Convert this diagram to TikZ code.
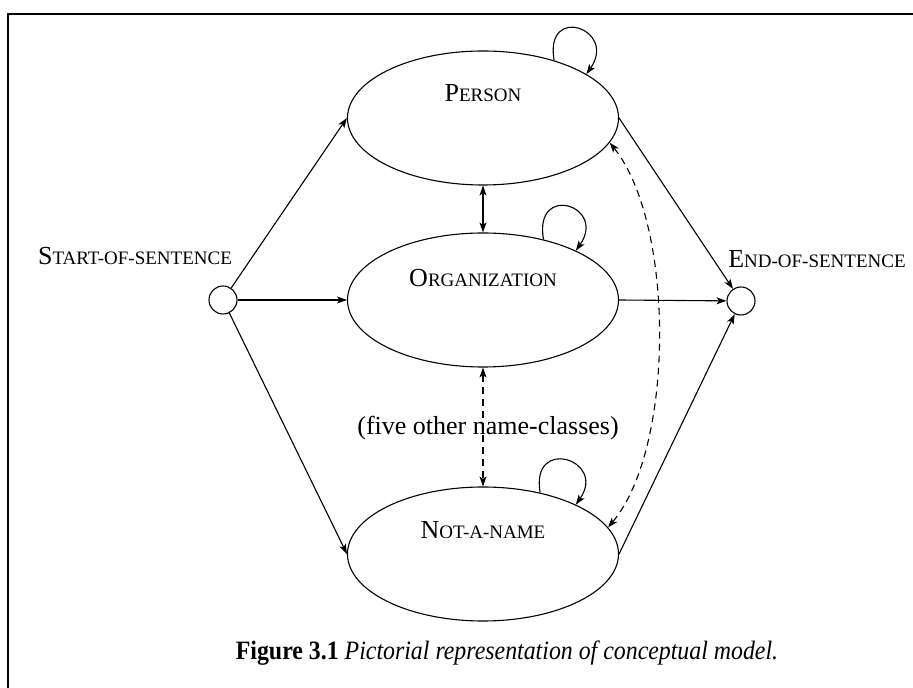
\documentclass[tikz,border=0pt]{standalone}
\usepackage{fontspec}
\setmainfont{Liberation Serif}
\usetikzlibrary{arrows.meta,shapes.geometric}
\newcommand{\capsm}[2]{{\fontsize{26}{30}\selectfont #1}{\fontsize{19}{22}\selectfont #2}}
\begin{document}
\begin{tikzpicture}[x=1pt,y=1pt,line width=1.1pt,
  >={Stealth[length=10pt,width=7pt,inset=2.5pt]},
  stateell/.style={draw,ellipse,minimum width=271pt,minimum height=134pt,inner sep=0pt},
  endpt/.style={draw,circle,minimum size=28pt,inner sep=0pt},
  lbl/.style={inner sep=0pt,anchor=base},
  conn/.style={->},
  dconn/.style={<->,dash pattern=on 7pt off 5pt},
  frameline/.style={line width=1.6pt}]
\useasboundingbox (0,0) rectangle (913,688);
\draw[frameline] (913,674) -- (8,674) -- (8,0);
% state ellipses
\node[stateell] (P) at (483,570) {};
\node[stateell] (O) at (483,388) {};
\node[stateell] (N) at (483,134) {};
\node[endpt] (S) at (223,388) {};
\node[endpt] (E) at (741,387) {};
% texts
\node[lbl] (Pt) at (483,586) {\capsm{P}{ERSON}};
\node[lbl] (Ot) at (483,401) {\capsm{O}{RGANIZATION}};
\node[lbl] (Nt) at (483,149) {\capsm{N}{OT-A-NAME}};
\node[lbl] (St) at (135,423) {\capsm{S}{TART-OF-SENTENCE}};
\node[lbl] (Et) at (817,420) {\capsm{E}{ND-OF-SENTENCE}};
\node[lbl] (Ft) at (488,253) {\fontsize{26}{30}\selectfont (five other name-classes)};
\node[lbl] (cap) at (507,28) {\scalebox{0.9}[1]{\fontsize{26.5}{30}\selectfont\textbf{Figure 3.1} \textit{Pictorial representation of conceptual model.}}};
% connectors
\draw[conn] (S) -- (P.west);
\draw[conn] (S) -- (O.west);
\draw[conn] (S) -- (N.west);
\draw[conn] (P.east) -- (E);
\draw[conn] (O.east) -- (E);
\draw[conn] (N.east) -- (E);
\draw[<->] (P.south) -- (O.north);
\draw[dconn] (O.south) -- (N.north);
\draw[dconn] (P.-11) .. controls (675,464) and (675,240) .. (N.12);
% self loops
\draw[conn] (P.39) .. controls +(100:58) and +(55:55) .. (P.23);
\draw[conn] (O.45) .. controls +(100:58) and +(55:55) .. (O.28);
\draw[conn] (N.47) .. controls +(100:58) and +(55:55) .. (N.28);
\end{tikzpicture}
\end{document}
